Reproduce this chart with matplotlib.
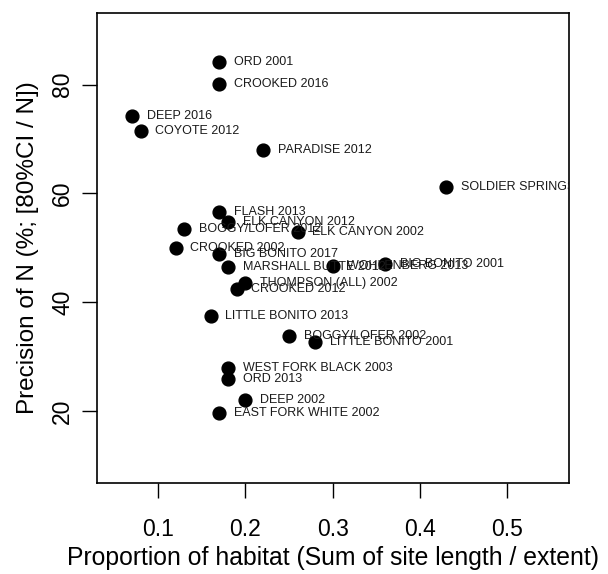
import matplotlib
matplotlib.use('Agg')
import matplotlib.pyplot as plt

plt.rcParams['font.family'] = ['Liberation Sans', 'DejaVu Sans']

# proportion of habitat sampled vs precision of the abundance estimate
sites = ['ORD 2001', 'CROOKED 2016', 'DEEP 2016', 'COYOTE 2012', 'PARADISE 2012',
         'SOLDIER SPRINGS 2012', 'FLASH 2013', 'ELK CANYON 2012', 'BOGGY/LOFER 2012',
         'ELK CANYON 2002', 'CROOKED 2002', 'BIG BONITO 2017', 'MARSHALL BUTTE 2012',
         'WOHLENBERG 2013', 'BIG BONITO 2001', 'THOMPSON (ALL) 2002', 'CROOKED 2012',
         'LITTLE BONITO 2013', 'BOGGY/LOFER 2002', 'LITTLE BONITO 2001',
         'WEST FORK BLACK 2003', 'ORD 2013', 'DEEP 2002', 'EAST FORK WHITE 2002']
prop_habitat = [0.17, 0.17, 0.07, 0.08, 0.22,
                0.43, 0.17, 0.18, 0.13,
                0.26, 0.12, 0.17, 0.18,
                0.30, 0.36, 0.20, 0.19,
                0.16, 0.25, 0.28,
                0.18, 0.18, 0.20, 0.17]
precision = [84.2, 80.1, 74.3, 71.4, 67.9,
             61.1, 56.5, 54.7, 53.4,
             53.0, 49.9, 48.9, 46.4,
             46.6, 47.0, 43.6, 42.4,
             37.5, 33.8, 32.7,
             27.9, 25.9, 22.1, 19.6]
x_ticks = [0.1, 0.2, 0.3, 0.4, 0.5]
y_ticks = [20, 40, 60, 80]

fig = plt.figure(figsize=(6.08, 5.74), dpi=100)
ax = fig.add_axes([97 / 608, 1 - 483 / 574, 471.6 / 608, 470.3 / 574])

ax.scatter(prop_habitat, precision, s=85, color='black', zorder=3)
for name, x, y in zip(sites, prop_habitat, precision):
    t = ax.annotate(name, (x, y), xytext=(10.5, 0), textcoords='offset points',
                    ha='left', va='center', fontsize=9, color='#1a1a1a')
    t.set_clip_on(True)
    t.set_clip_box(ax.bbox)

ax.set_xlim(0.03, 0.57)
ax.set_ylim(6.8, 93.2)
ax.set_xticks(x_ticks)
ax.set_xticklabels([str(v) for v in x_ticks])
ax.set_yticks(y_ticks)
ax.set_yticklabels([str(v) for v in y_ticks], rotation=90, va='center')
ax.tick_params(direction='out', length=10.5, width=1, labelsize=16.5)
ax.tick_params(axis='x', pad=15)
ax.tick_params(axis='y', pad=6)

for sp in ax.spines.values():
    sp.set_linewidth(1.2)

ax.set_xlabel('Proportion of habitat (Sum of site length / extent)', fontsize=17.8, va='center')
ax.set_ylabel('Precision of N (%; [80%CI / N])', fontsize=17.5, va='center')
ax.xaxis.set_label_coords(0.5, -0.1595)
ax.yaxis.set_label_coords(-0.146, 0.5)

fig.savefig('out.png', dpi=100)
